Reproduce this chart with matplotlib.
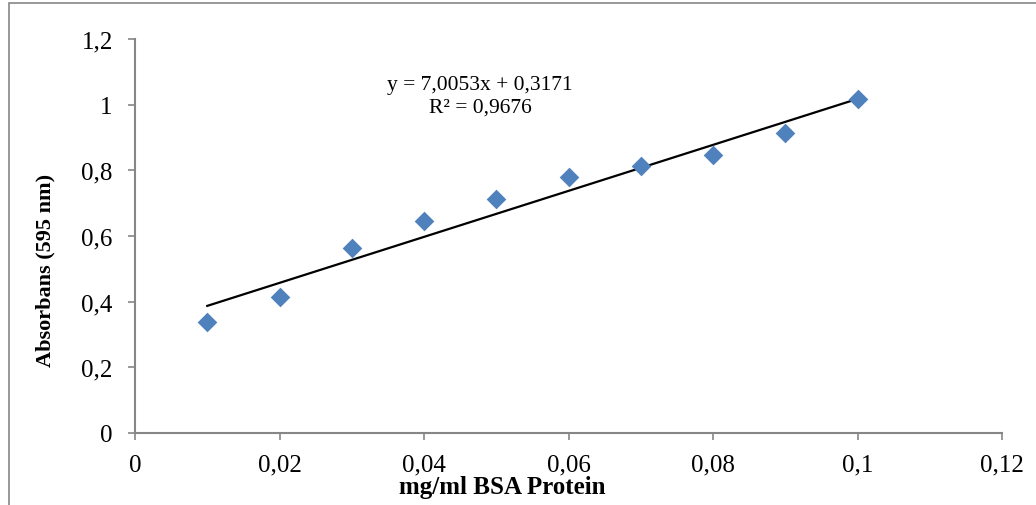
import numpy as np
import matplotlib
matplotlib.use("Agg")
import matplotlib.pyplot as plt
from matplotlib.patches import Rectangle

# data
conc = [0.01, 0.02, 0.03, 0.04, 0.05, 0.06, 0.07, 0.08, 0.09, 0.10]
absorb = [0.338, 0.414, 0.563, 0.646, 0.713, 0.780, 0.813, 0.847, 0.914, 1.017]
slope, intercept = 7.0053, 0.3171
x_ticks = [0, 0.02, 0.04, 0.06, 0.08, 0.10, 0.12]
x_labels = ["0", "0,02", "0,04", "0,06", "0,08", "0,1", "0,12"]
y_ticks = [0, 0.2, 0.4, 0.6, 0.8, 1.0, 1.2]
y_labels = ["0", "0,2", "0,4", "0,6", "0,8", "1", "1,2"]

W, H = 1036, 506
grey = "#868686"
plt.rcParams['font.family'] = ['Liberation Serif', 'DejaVu Serif']

fig = plt.figure(figsize=(W/100, H/100), dpi=100)
ax = fig.add_axes([135/W, 1-434/H, (1002-135)/W, (434-40)/H])

# outer chart frame (cropped on right/bottom)
fig.patches.append(Rectangle((9/W, -0.1), 1.2, 1-4/H+0.1, transform=fig.transFigure,
                             fill=False, edgecolor=grey, lw=1.2))

ax.scatter(conc, absorb, marker="D", s=100, color="#4F81BD", zorder=3, linewidths=0)
xf = np.array([conc[0], conc[-1]])
ax.plot(xf, slope*xf + intercept, color="black", lw=1.6, zorder=2)

ax.set_xlim(0, 0.12)
ax.set_ylim(0, 1.2)
ax.set_xticks(x_ticks)
ax.set_xticklabels(x_labels)
ax.set_yticks(y_ticks)
ax.set_yticklabels(y_labels)
for s in ["top", "right"]:
    ax.spines[s].set_visible(False)
for s in ["left", "bottom"]:
    ax.spines[s].set_color(grey)
    ax.spines[s].set_linewidth(1.5)
ax.tick_params(axis="both", direction="out", length=5, width=1.2, color=grey,
               labelsize=18, labelcolor="black")
ax.tick_params(axis="y", pad=11)
ax.tick_params(axis="x", pad=10)

fig.text(480/W, 1-97/H, "y = 7,0053x + 0,3171\nR² = 0,9676", ha="center", va="center",
         fontsize=15.5, linespacing=1.25)
fig.text(45/W, 1-270/H, "Absorbans (595 nm)", rotation=90, ha="center", va="center",
         fontsize=16, fontweight="bold")
fig.text(502/W, 1-488/H, "mg/ml BSA Protein", ha="center", va="center",
         fontsize=18, fontweight="bold")

fig.savefig("out.png", dpi=100)
